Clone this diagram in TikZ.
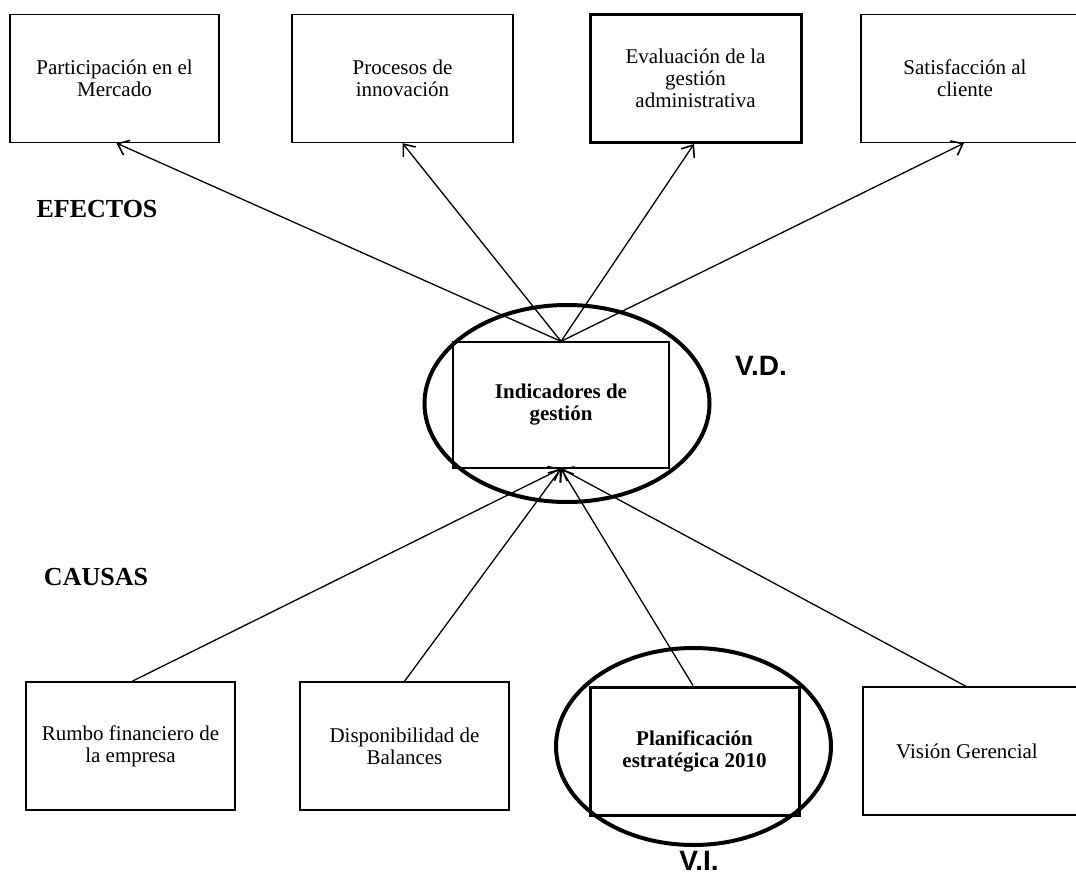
\documentclass[tikz,border=0pt]{standalone}
\usepackage{fontspec}
\setmainfont{Liberation Serif}
\newfontfamily\labelsans{Liberation Sans}
\usetikzlibrary{shapes.geometric,arrows.meta}
\tikzset{
  box/.style={draw, line width=1.3pt, minimum width=209pt, minimum height=128pt, align=center, inner sep=2pt, font=\fontsize{21}{22}\selectfont},
  thickbox/.style={box, line width=3pt},
  ring/.style={draw, ellipse, line width=4pt, inner sep=0pt},
  conn/.style={line width=1.3pt},
  arr/.style={conn, -{Straight Barb[length=10pt,width=16pt,line width=1.6pt]}},
  head/.style={font=\fontsize{26}{28}\selectfont\bfseries},
  var/.style={font=\labelsans\fontsize{28}{30}\selectfont\bfseries}
}
\begin{document}
\begin{tikzpicture}[x=1pt,y=-1pt]
\useasboundingbox (0,0) rectangle (1076,877);
\clip (0,0) rectangle (1076,877);
\fill[white] (0,0) rectangle (1076,877);
% top boxes (effects)
\node[box, minimum width=209pt] (e1) at (114.5,78.5) {Participación en el\\Mercado};
\node[box, minimum width=221pt] (e2) at (402.5,78.5) {Procesos de\\innovación};
\node[thickbox, minimum width=211pt] (e3) at (695.5,78.5) {Evaluación de la\\gestión\\administrativa};
\node[box, minimum width=232pt] (e4) at (977,78.5) {\hspace*{-24pt}Satisfacción al\\\hspace*{-24pt}cliente};
% central variable
\node[ring, minimum width=285pt, minimum height=197pt] (vdring) at (567,403.5) {};
\node[box, minimum width=216pt, minimum height=126pt] (ind) at (561,405) {\bfseries Indicadores de\\\bfseries gestión};
\node[var] (vd) at (761,366) {V.D.};
% headings
\node[head] (efectos) at (97,209) {EFECTOS};
\node[head] (causas) at (96,577) {CAUSAS};
% bottom boxes (causes)
\node[box, minimum width=209pt] (c1) at (130.5,746) {Rumbo financiero de\\la empresa};
\node[box, minimum width=209pt] (c2) at (404.5,746) {Disponibilidad de\\Balances};
\node[ring, minimum width=275pt, minimum height=197pt] (viring) at (693.5,746.5) {};
\node[thickbox, minimum width=209pt, minimum height=128pt] (c3) at (694.5,751) {\bfseries Planificación\\\bfseries estratégica 2010};
\node[box, minimum width=232pt] (c4) at (979,751) {\hspace*{-24pt}Visión Gerencial};
\node[var] (vi) at (699,861) {V.I.};
% connectors: effects
\draw[arr] (ind.north) -- ([xshift=2pt]e1.south);
\draw[arr] (ind.north) -- (e2.south);
\draw[arr] (ind.north) -- ([xshift=-1.5pt]e3.south);
\draw[arr] (ind.north) -- ([xshift=-13pt]e4.south);
% connectors: causes
\draw[arr] ([xshift=1.5pt]c1.north) -- (ind.south);
\draw[arr] (c2.north) -- (ind.south);
\draw[arr] ([xshift=-1.5pt]c3.north) -- (ind.south);
\draw[arr] ([xshift=-13pt]c4.north) -- (ind.south);
\end{tikzpicture}
\end{document}
